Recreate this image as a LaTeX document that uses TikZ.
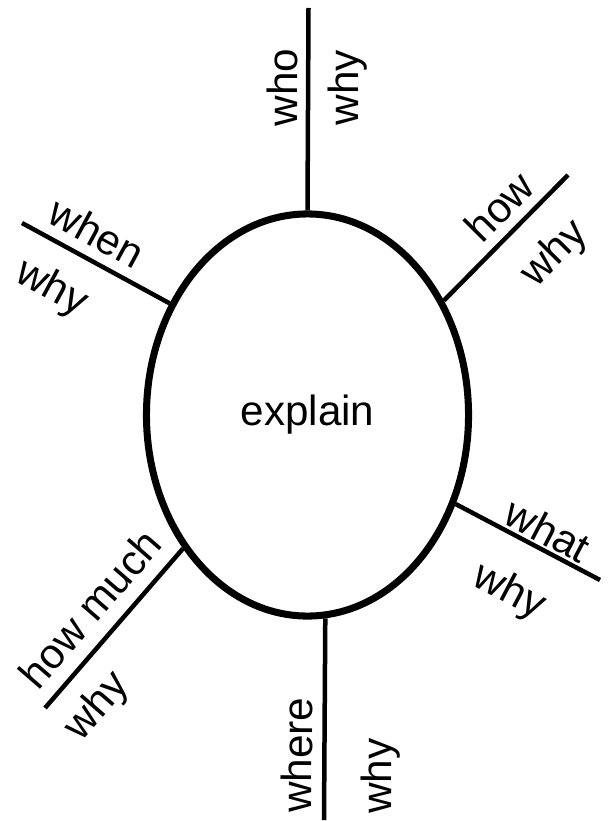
\documentclass[tikz,border=0pt]{standalone}
\usepackage{fontspec}
\setmainfont{Liberation Sans}
\usetikzlibrary{shapes.geometric}

\begin{document}
\begin{tikzpicture}[
    x=0.025cm, y=-0.025cm,
    hub/.style={ellipse, draw, line width=5pt, minimum width=8.05cm, minimum height=10.05cm, inner sep=0pt, font=\fontsize{30}{36}\selectfont},
    spoke/.style={line width=3.2pt},
    word/.style={sloped, inner sep=#1, outer sep=0pt, font=\fontsize{30}{36}\selectfont}
]
    \useasboundingbox (0,0) rectangle (610,821);

    \node[hub] (core) at (307.5,415) {explain};

    \coordinate (who-end) at (308.5,8);
    \coordinate (how-end) at (568,175);
    \coordinate (when-end) at (22,223);
    \coordinate (what-end) at (600,580);
    \coordinate (much-end) at (45,708);
    \coordinate (where-end) at (324,820);

    \draw[spoke] (core.north) -- (who-end)
        node[word=7pt, above, pos=0.607] {who}
        node[word=14pt, below, pos=0.607] {why};
    \draw[spoke] (core.40.8) -- (how-end)
        node[word=8pt, above, pos=0.60] {how}
        node[word=19pt, below, pos=0.63] {why};
    \draw[spoke] (when-end) -- (core.141)
        node[word=8.5pt, above, pos=0.42] {when}
        node[word=17pt, below, pos=0.34] {why};
    \draw[spoke] (core.-31.2) -- (what-end)
        node[word=3pt, above, pos=0.575] {what}
        node[word=24pt, below, pos=0.54] {why};
    \draw[spoke] (much-end) -- (core.227.5)
        node[word=11pt, above, pos=0.496] {how much}
        node[word=14pt, below, pos=0.167] {why};
    \draw[spoke] (where-end) -- (core.-85)
        node[word=8.5pt, above, pos=0.32] {where}
        node[word=26pt, below, pos=0.22] {why};
\end{tikzpicture}
\end{document}
